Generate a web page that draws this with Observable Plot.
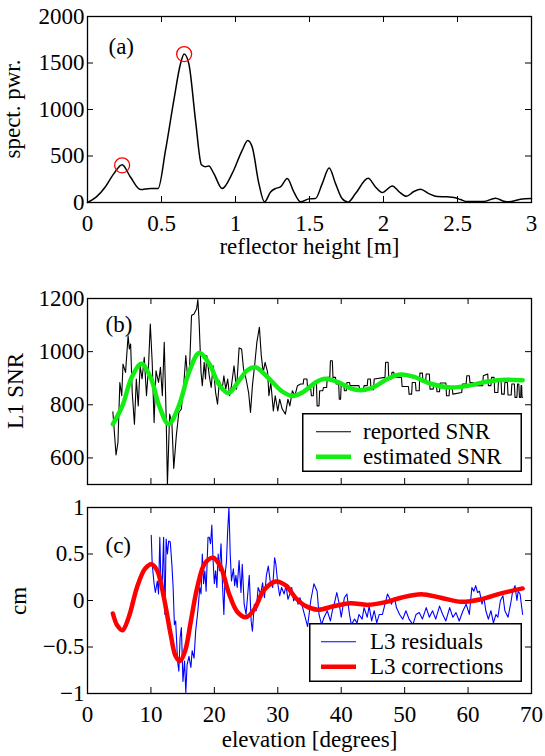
<!DOCTYPE html>
<html><head><meta charset="utf-8">
<script src="https://cdn.jsdelivr.net/npm/d3@7"></script>
<script src="https://cdn.jsdelivr.net/npm/@observablehq/plot@0.6"></script>
<style>
body{margin:0;background:#fff;}
#wrap{position:relative;width:545px;height:756px;overflow:hidden;font-family:"Liberation Serif","Times New Roman",Times,serif;background:#fff;}
.pane{position:absolute;left:0;}
.ylab{position:absolute;}
.leg{position:absolute;}
</style></head><body><div id="wrap"></div>
<script>
// ---------- data ----------
const heightTicks = [0, 0.5, 1, 1.5, 2, 2.5, 3];
const pwrTicks = [0, 500, 1000, 1500, 2000];
const elevTicks = [0, 10, 20, 30, 40, 50, 60, 70];
const snrTicks = [600, 800, 1000, 1200];
const cmTicks = [-1, -0.5, 0, 0.5, 1];

// panel (a): spectral power vs reflector height [m]
const spectrum = [[0,0],[0.06,60],[0.12,167],[0.178,310],[0.234,407],[0.29,274],[0.358,139],[0.426,150],[0.477,150],[0.527,560],[0.583,1096],[0.628,1489],[0.653,1596],[0.685,1489],[0.73,881],[0.77,405],[0.795,385],[0.82,392],[0.854,310],[0.91,150],[0.977,310],[1.045,560],[1.083,667],[1.113,596],[1.158,203],[1.196,6],[1.237,114],[1.27,150],[1.304,167],[1.35,257],[1.394,114],[1.44,8],[1.496,39],[1.54,42],[1.586,203],[1.633,371],[1.676,203],[1.72,42],[1.761,4],[1.811,96],[1.896,260],[1.946,167],[1.991,107],[2.06,178],[2.104,118],[2.155,67],[2.205,118],[2.25,142],[2.306,96],[2.363,64],[2.43,61],[2.486,50],[2.52,32],[2.565,10],[2.677,10],[2.756,46],[2.813,14],[2.847,7],[2.926,35],[3.0,42]];
const peaks = [[0.234,400],[0.653,1596]];

// panel (b): L1 SNR vs elevation [deg]
const reportedSNR = [[4.0,774],[4.5,611],[4.8,658],[5.1,884],[5.4,834],[5.6,953],[6.0,922],[6.4,1060],[6.6,1010],[6.8,1029],[7.05,846],[7.4,727],[7.7,897],[8.0,796],[8.3,947],[8.6,897],[8.95,979],[9.3,834],[9.6,935],[9.9,1104],[10.2,960],[10.5,733],[10.8,928],[11.2,884],[11.5,941],[11.8,834],[12.1,1035],[12.4,758],[12.6,500],[12.95,765],[13.3,733],[13.6,560],[14.0,683],[14.4,771],[14.8,784],[15.2,884],[15.5,985],[15.8,897],[16.1,947],[16.4,1136],[16.8,1142],[17.2,1161],[17.4,1196],[17.6,1111],[17.9,922],[18.1,872],[18.4,960],[18.6,897],[18.8,985],[19.2,909],[19.5,865],[19.8,947],[20.2,846],[20.5,802],[20.8,890],[21.2,853],[21.5,909],[21.8,859],[22.1,897],[22.4,834],[22.7,872],[23.1,947],[23.5,859],[23.9,1014],[24.3,1010],[24.6,935],[25.0,897],[25.4,846],[25.7,771],[26.0,872],[26.4,960],[26.7,1035],[27.1,1092],[27.4,985],[27.7,922],[28.0,960],[28.4,922],[28.6,834],[28.9,884],[29.3,777],[29.6,834],[30.0,777],[30.3,821],[30.7,784],[31.2,765],[31.6,821],[31.9,796],[32.3,853],[32.7,834],[33.1,872],
  [33.6,878],[34.0,878],[34.1,897],[34.6,897],[34.7,859],[35.2,859],[35.3,834],[35.6,834],[35.7,878],[36.1,878],[36.2,796],[36.5,796],[36.6,853],[37.1,853],[37.2,865],[37.7,865],[37.8,903],[38.2,903],[38.3,966],[38.6,966],[38.7,903],[39.1,903],[39.2,878],[39.6,878],[39.7,821],[39.9,821],[40.0,878],[40.4,878],[40.5,853],[40.8,853],[40.9,884],[41.3,884],[41.4,872],[42.8,872],[42.9,859],[43.5,859],[43.6,872],[44.1,872],[44.2,897],[44.6,897],[44.7,857],[45.1,857],[45.2,897],[46.9,903],[47.0,960],[47.4,960],[47.5,897],[47.9,897],[48.0,922],[48.3,922],[48.4,903],[49.5,903],[49.6,869],[50.6,869],[50.7,840],[51.1,840],[51.2,884],[51.7,884],[51.8,853],[52.3,853],[52.4,919],[52.8,919],[52.9,884],[53.3,884],[53.4,916],[53.9,916],[54.0,859],[54.5,859],[54.6,878],[55.0,878],[55.1,849],[55.5,849],[55.6,882],[56.5,882],[56.6,834],[57.0,834],[57.1,865],[57.5,865],[57.6,840],[59.0,846],[59.1,878],[59.7,878],[59.8,909],[60.2,909],[60.3,884],[60.8,884],[60.9,872],[62.3,872],[62.4,909],[63.1,916],[63.2,872],[63.6,872],[63.7,903],[64.1,903],[64.2,846],[64.7,846],[64.8,890],[65.2,890],[65.3,840],[65.7,840],[65.8,884],[66.2,884],[66.3,837],[66.8,837],[66.9,878],[67.3,878],[67.4,828],[67.7,828],[67.8,878],[68.0,878],[68.1,828],[68.3,828],[68.35,872],[68.45,872],[68.5,828],[68.6,828]];
const estimatedSNR = [[4.0,727],[5.5,796],[7.0,905],[8.5,954],[10.0,900],[11.3,796],[12.8,727],[14.4,796],[16.0,922],[17.6,995],[19.2,954],[20.7,878],[22.2,844],[23.9,891],[25.2,930],[26.5,941],[27.8,918],[29.2,884],[30.7,850],[32.3,833],[34.0,848],[36.0,885],[37.5,898],[39.5,885],[41.5,862],[43.1,855],[45.0,865],[47.5,900],[49.4,914],[51.5,905],[54.0,880],[57.3,865],[60.0,872],[63.1,888],[66.0,894],[68.6,892]];

// panel (c): L3 residuals / corrections [cm] vs elevation
const residuals = [[10.05,0.70],[10.2,0.39],[10.5,0.18],[10.7,0.086],[11.0,0.21],[11.2,0.07],[11.4,0.68],[11.6,0.14],[11.8,0.23],[12.0,0.68],[12.2,-0.15],[12.4,0.66],[12.6,0.5],[12.8,0.64],[13.05,0.63],[13.3,0.39],[13.5,0.14],[13.7,-0.26],[13.9,-0.22],[14.2,-0.65],[14.4,-0.76],[14.6,-0.40],[14.8,-0.29],[15.05,-0.87],[15.3,-0.65],[15.5,-0.99],[15.7,-0.69],[16.0,-0.60],[16.3,-0.72],[16.5,-0.54],[16.8,-0.62],[17.05,-0.33],[17.4,-0.11],[17.7,0.14],[17.9,0.07],[18.1,0.5],[18.3,0.18],[18.5,0.32],[18.7,0.10],[19.0,0.68],[19.2,0.68],[19.4,0.61],[19.6,0.81],[19.8,0.43],[20.0,0.18],[20.2,0.32],[20.4,0.14],[20.6,0.5],[20.8,0.32],[21.05,0.61],[21.3,0.14],[21.5,-0.15],[21.7,0.28],[21.9,0.41],[22.1,0.75],[22.3,1.0],[22.5,0.5],[22.7,0.21],[23.0,0.34],[23.2,0.16],[23.4,0.27],[23.6,0.14],[23.9,0.43],[24.2,0.086],[24.4,0.39],[24.7,-0.04],[25.0,-0.15],[25.3,0.10],[25.5,0.27],[25.8,-0.22],[26.0,-0.33],[26.3,-0.04],[26.6,-0.11],[26.9,0.14],[27.3,0.07],[27.6,0.19],[27.9,0.03],[28.2,0.27],[28.5,0.37],[28.8,0.21],[29.2,0.14],[29.5,0.46],[29.7,0.39],[30.0,0.18],[30.3,0.05],[30.6,0.14],[31.0,0.07],[31.3,0.16],[31.6,0.014],[31.9,0.07],[32.2,0.14],[32.5,-0.004],[32.8,0.05],[33.2,-0.04],[33.5,0.03],[34.2,-0.15],[34.7,-0.28],[35.2,0],[35.7,0.18],[36.2,0.10],[36.5,-0.15],[36.9,-0.26],[37.3,-0.18],[37.8,-0.11],[38.3,-0.22],[38.6,-0.11],[38.9,-0.04],[39.3,0.086],[39.7,-0.04],[40.0,-0.18],[40.5,0.03],[40.9,0.07],[41.3,-0.15],[41.6,-0.26],[42.1,-0.2],[42.5,-0.24],[42.8,-0.15],[43.3,-0.2],[43.6,-0.076],[44.1,-0.18],[44.4,-0.06],[44.8,-0.22],[45.2,-0.11],[45.6,-0.24],[46.0,-0.15],[46.5,-0.15],[46.9,-0.04],[47.3,0.07],[47.7,0.014],[47.9,-0.04],[48.4,0.03],[48.7,-0.076],[49.2,-0.15],[49.7,-0.2],[50.2,-0.11],[50.7,-0.2],[51.3,-0.26],[51.8,-0.15],[52.3,-0.13],[52.8,-0.2],[53.4,-0.076],[53.9,-0.18],[54.4,-0.11],[54.9,-0.2],[55.5,-0.06],[56.0,-0.15],[56.5,-0.22],[57.1,-0.076],[57.6,-0.18],[58.1,-0.13],[58.6,-0.22],[59.2,-0.11],[59.7,-0.04],[60.2,-0.15],[60.6,0.14],[60.9,0.10],[61.2,0.16],[61.5,0.086],[61.8,0.10],[62.2,-0.04],[62.5,0.03],[62.8,-0.11],[63.2,-0.2],[63.6,-0.11],[64.0,-0.24],[64.4,-0.15],[64.7,-0.18],[65.1,0],[65.5,0.05],[65.8,-0.11],[66.3,-0.18],[66.7,-0.04],[67.0,0.086],[67.4,0.16],[67.7,0],[67.9,0.10],[68.2,0.07],[68.4,-0.04],[68.6,-0.15]];
const corrections = [[4.0,-0.14],[4.7,-0.27],[5.5,-0.32],[6.5,-0.18],[7.8,0.14],[9.05,0.34],[10.1,0.39],[11.0,0.32],[12.05,0.03],[13.1,-0.36],[13.9,-0.6],[14.6,-0.65],[15.4,-0.54],[16.3,-0.22],[17.3,0.14],[18.5,0.40],[19.8,0.46],[21.0,0.36],[22.3,0.076],[23.6,-0.12],[25.0,-0.18],[26.3,-0.094],[27.8,0.11],[29.7,0.205],[31.3,0.16],[32.8,0.03],[34.4,-0.06],[36.3,-0.10],[38.9,-0.06],[41.5,-0.03],[44.2,-0.047],[46.8,-0.02],[49.4,0.03],[52.6,0.068],[55.7,0.03],[58.9,-0.014],[62.1,0.014],[65.2,0.076],[68.6,0.13]];

const labels = {
  a: {tag: "(a)", x: "reflector height [m]", y: "spect. pwr."},
  b: {tag: "(b)", y: "L1 SNR", legend: ["reported SNR", "estimated SNR"]},
  c: {tag: "(c)", x: "elevation [degrees]", y: "cm", legend: ["L3 residuals", "L3 corrections"]}
};

// ---------- layout ----------
const W = 545, ML = 87, MR = 14, FH = 186, FW = W - ML - MR, TK = 6, FS = 23;
const FONT = '"Liberation Serif", "Times New Roman", Times, serif';
const wrap = document.getElementById("wrap");
const fmtNum = d => d < 0 ? "\u2212" + String(-d) : String(d);

function frameTicks(xt, yt) {
  return [
    Plot.ruleX(xt, {x: d => d, insetTop: FH - TK, stroke: "black", strokeWidth: 1}),
    Plot.ruleX(xt, {x: d => d, insetBottom: FH - TK, stroke: "black", strokeWidth: 1}),
    Plot.ruleY(yt, {y: d => d, insetRight: FW - TK, stroke: "black", strokeWidth: 1}),
    Plot.ruleY(yt, {y: d => d, insetLeft: FW - TK, stroke: "black", strokeWidth: 1}),
    Plot.frame({stroke: "black", strokeWidth: 1.3})
  ];
}

function panel(top, mTop, mBottom, opts) {
  const p = Plot.plot({
    width: W, height: mTop + FH + mBottom,
    marginLeft: ML, marginRight: MR, marginTop: mTop, marginBottom: mBottom,
    style: {fontFamily: FONT, fontSize: FS + "px", background: "transparent", color: "black"},
    x: {domain: opts.xDomain, axis: null},
    y: {domain: opts.yDomain, axis: null},
    marks: opts.marks
  });
  p.classList.add("pane");
  p.style.top = top + "px";
  wrap.appendChild(p);
}

function svgEl(tag, attrs) {
  const e = document.createElementNS("http://www.w3.org/2000/svg", tag);
  for (const k in attrs) e.setAttribute(k, attrs[k]);
  return e;
}

// rotated y-axis title; baselineX = x of the text baseline (glyphs extend to the left)
function yLabel(text, centerY, baselineX) {
  const d = document.createElement("div");
  d.className = "ylab";
  const w = baselineX + 10;
  d.style.left = "0px"; d.style.top = (centerY - 100) + "px";
  d.style.width = w + "px"; d.style.height = "200px";
  const s = svgEl("svg", {width: w, height: 200});
  s.style.display = "block"; s.style.overflow = "visible";
  const t = svgEl("text", {transform: `translate(${baselineX},100) rotate(-90)`, "text-anchor": "middle", "font-size": FS, fill: "black"});
  t.style.fontFamily = FONT;
  t.textContent = text;
  s.appendChild(t); d.appendChild(s); wrap.appendChild(d);
}

function legend(left, top, w, h, items, lineX0, lineX1, textX) {
  const d = document.createElement("div");
  d.className = "leg";
  d.style.left = left + "px"; d.style.top = top + "px";
  const s = svgEl("svg", {width: w, height: h});
  s.style.display = "block";
  s.appendChild(svgEl("rect", {x: 0.75, y: 0.75, width: w - 1.5, height: h - 1.5, fill: "white", stroke: "black", "stroke-width": 1.5}));
  items.forEach((it, i) => {
    const cy = 18.7 + i * 25;
    s.appendChild(svgEl("line", {x1: lineX0, x2: lineX1, y1: cy, y2: cy, stroke: it.color, "stroke-width": it.width}));
    const t = svgEl("text", {x: textX, y: cy + 7.5, "font-size": FS, fill: "black"});
    t.style.fontFamily = FONT;
    t.textContent = it.label;
    s.appendChild(t);
  });
  d.appendChild(s); wrap.appendChild(d);
}

// ---------- panel (a) ----------
panel(0, 16, 58, {
  xDomain: [0, 3], yDomain: [0, 2000],
  marks: [
    Plot.line(spectrum, {x: d => d[0], y: d => d[1], stroke: "black", strokeWidth: 1.5, curve: "monotone-x"}),
    Plot.dot(peaks, {x: d => d[0], y: d => d[1], r: 7.5, stroke: "#ff0000", strokeWidth: 1.3, fill: "none"}),
    ...frameTicks(heightTicks, pwrTicks),
    Plot.axisY({ticks: pwrTicks, tickSize: 0, tickPadding: 3, tickFormat: fmtNum, fontFamily: FONT}),
    Plot.axisX({ticks: heightTicks, tickSize: 0, tickPadding: 12, tickFormat: fmtNum, fontFamily: FONT}),
    Plot.text([labels.a.x], {frameAnchor: "bottom", dy: 34.7, lineAnchor: "top", fontSize: FS, fontFamily: FONT}),
    Plot.text([labels.a.tag], {frameAnchor: "top-left", dx: 21, dy: 20.7, textAnchor: "start", lineAnchor: "top", fontSize: FS, fontFamily: FONT})
  ]
});
yLabel(labels.a.y, 109, 20);

// ---------- panel (b) ----------
panel(260, 38, 6, {
  xDomain: [0, 70], yDomain: [500, 1200],
  marks: [
    Plot.line(reportedSNR, {x: d => d[0], y: d => d[1], stroke: "black", strokeWidth: 1.1, clip: true}),
    Plot.line(estimatedSNR, {x: d => d[0], y: d => d[1], stroke: "#11ee11", strokeWidth: 4.5, curve: "catmull-rom"}),
    ...frameTicks(elevTicks, snrTicks),
    Plot.axisY({ticks: snrTicks, tickSize: 0, tickPadding: 3, tickFormat: fmtNum, fontFamily: FONT}),
    Plot.text([labels.b.tag], {frameAnchor: "top-left", dx: 18, dy: 16.7, textAnchor: "start", lineAnchor: "top", fontSize: FS, fontFamily: FONT})
  ]
});
yLabel(labels.b.y, 391, 22.7);
legend(302, 413, 220, 59, [
  {label: labels.b.legend[0], color: "black", width: 1.1},
  {label: labels.b.legend[1], color: "#11ee11", width: 4.5}
], 14, 49, 61);

// ---------- panel (c) ----------
panel(490, 17, 62, {
  xDomain: [0, 70], yDomain: [-1, 1],
  marks: [
    Plot.line(residuals, {x: d => d[0], y: d => d[1], stroke: "#0000ff", strokeWidth: 1.1, clip: true}),
    Plot.line(corrections, {x: d => d[0], y: d => d[1], stroke: "#ff0000", strokeWidth: 4.5, curve: "catmull-rom"}),
    ...frameTicks(elevTicks, cmTicks),
    Plot.axisY({ticks: cmTicks, tickSize: 0, tickPadding: 3, tickFormat: fmtNum, fontFamily: FONT}),
    Plot.axisX({ticks: elevTicks, tickSize: 0, tickPadding: 11.7, tickFormat: fmtNum, fontFamily: FONT}),
    Plot.text([labels.c.x], {frameAnchor: "bottom", dy: 36.7, lineAnchor: "top", fontSize: FS, fontFamily: FONT}),
    Plot.text([labels.c.tag], {frameAnchor: "top-left", dx: 18, dy: 28.8, textAnchor: "start", lineAnchor: "top", fontSize: FS, fontFamily: FONT})
  ]
});
yLabel(labels.c.y, 601, 26);
legend(309, 623, 213, 59, [
  {label: labels.c.legend[0], color: "#0000ff", width: 1.1},
  {label: labels.c.legend[1], color: "#ff0000", width: 4.5}
], 12, 47, 61);
</script></body></html>
